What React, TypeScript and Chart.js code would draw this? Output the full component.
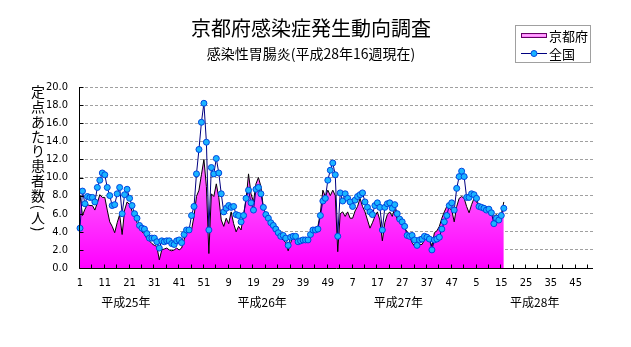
import React, { useEffect, useRef } from 'react';
import { Chart, registerables } from 'chart.js';

Chart.register(...registerables);

// ---- data ----
const titleText = '京都府感染症発生動向調査';
const subtitleText = '感染性胃腸炎(平成28年16週現在)';
const yAxisTitleMain = ['定', '点', 'あ', 'た', 'り', '患', '者', '数'];
const yAxisTitleUnit = '人';
const seriesNames = ['京都府', '全国'];
const yearNames = ['平成25年', '平成26年', '平成27年', '平成28年'];
const weeksPerYear = [52, 52, 52, 52];
const yTickValues = [0, 2, 4, 6, 8, 10, 12, 14, 16, 18, 20];

const kyoto2013 = [
  8.1, 5.8, 6.5, 7.0, 6.9, 6.9, 6.4, 7.2, 8.1, 7.8,
  7.8, 6.4, 5.1, 4.6, 3.9, 5.0, 5.9, 3.7, 6.4, 7.3,
  7.0, 6.3, 5.7, 5.0, 4.6, 4.0, 3.8, 3.2, 3.0, 2.7,
  2.5, 2.4, 0.9, 2.0, 2.1, 2.2, 2.0, 1.9, 2.0, 2.2,
  2.0, 2.2, 3.1, 3.9, 4.0, 4.2, 5.7, 7.9, 8.6, 10.3,
  12.0, 9.0,
];
const kyoto2014 = [
  1.6, 8.2, 7.9, 9.3, 7.8, 5.3, 4.6, 5.5, 4.9, 6.2,
  4.9, 4.0, 4.6, 4.2, 5.9, 7.5, 10.4, 8.2, 7.3, 9.3,
  10.0, 9.0, 6.6, 6.0, 5.5, 5.0, 4.6, 4.2, 3.8, 3.3,
  3.1, 2.8, 1.9, 2.8, 3.5, 3.0, 2.8, 3.0, 3.3, 3.2,
  3.2, 3.5, 4.2, 4.4, 4.6, 6.1, 8.6, 7.9, 8.6, 8.0,
  8.6, 8.0,
];
const kyoto2015 = [
  1.8, 6.0, 6.2, 5.7, 6.2, 5.5, 5.5, 6.3, 6.8, 7.7,
  6.8, 6.2, 5.3, 4.4, 5.0, 5.7, 6.2, 5.3, 3.0, 5.0,
  5.9, 6.2, 5.7, 6.6, 5.3, 5.0, 4.8, 4.4, 4.0, 3.5,
  2.8, 2.4, 2.4, 2.6, 2.6, 3.1, 3.4, 3.2, 2.4, 3.9,
  4.1, 4.6, 5.5, 6.2, 6.8, 6.6, 6.4, 5.1, 6.8, 7.7,
  7.9, 7.7,
];
const kyoto2016 = [
  6.8, 6.1, 7.0, 7.7, 7.3, 6.9, 6.7, 6.7, 6.4, 6.4,
  6.0, 5.7, 5.9, 5.7, 5.9, 7.3,
];

const national2013 = [
  4.4, 8.5, 7.1, 7.9, 7.8, 7.8, 7.3, 8.9, 9.7, 10.5,
  10.3, 8.9, 8.0, 6.9, 7.0, 8.2, 8.9, 6.0, 8.1, 8.7,
  7.7, 6.9, 6.0, 5.5, 4.7, 4.4, 4.3, 3.8, 3.3, 3.3,
  3.3, 2.9, 2.2, 3.0, 2.9, 3.0, 3.0, 2.7, 2.6, 3.0,
  3.1, 2.8, 3.7, 4.2, 4.2, 5.8, 6.8, 10.4, 13.1, 16.1,
  18.2, 13.9,
];
const national2014 = [
  4.2, 11.1, 10.4, 12.1, 10.5, 8.2, 6.2, 6.6, 6.9, 6.7,
  6.8, 5.9, 5.8, 5.1, 5.8, 7.7, 8.6, 7.2, 6.4, 8.7,
  8.9, 8.2, 6.7, 5.9, 5.5, 5.0, 4.7, 4.3, 3.9, 3.5,
  3.6, 3.3, 2.5, 3.4, 3.5, 3.5, 2.9, 3.0, 3.1, 3.1,
  3.1, 3.7, 4.2, 4.2, 4.3, 5.8, 7.4, 7.7, 9.7, 10.8,
  11.6, 10.3,
];
const national2015 = [
  3.5, 8.3, 7.4, 8.2, 7.7, 7.3, 6.8, 7.5, 7.9, 8.1,
  8.3, 7.3, 6.7, 6.2, 5.9, 6.9, 7.2, 6.7, 4.2, 6.7,
  7.1, 7.2, 6.6, 7.0, 6.0, 5.4, 5.1, 4.6, 3.6, 3.5,
  3.6, 3.1, 2.5, 3.1, 3.2, 3.5, 3.4, 3.2, 2.0, 3.1,
  3.2, 3.4, 4.3, 5.1, 5.8, 6.9, 7.2, 6.4, 8.8, 10.1,
  10.7, 10.1,
];
const national2016 = [
  7.8, 7.8, 8.2, 8.1, 7.7, 6.8, 6.7, 6.6, 6.4, 6.5,
  6.1, 4.9, 5.5, 5.3, 5.8, 6.6,
];

const kyoto = [...kyoto2013, ...kyoto2014, ...kyoto2015, ...kyoto2016];
const national = [...national2013, ...national2014, ...national2015, ...national2016];
const weekLabels = weeksPerYear.flatMap((n) => Array.from({ length: n }, (_, i) => String(i + 1)));

// ---- style ----
const JP = '"Noto Sans CJK JP", "Noto Sans", sans-serif';
const NUM = '"Liberation Sans Narrow", "DejaVu Sans Condensed", "Liberation Sans", sans-serif';
const W = 631;
const H = 347;
const YEAR_LABEL_FIRST = 18.5;
const YEAR_LABEL_STEP = 55;
const NAVY = '#000080';
const MARK_FILL = '#1ab4ff';
const MARK_EDGE = '#0046e0';

const decorPlugin = {
  id: 'decor',
  afterDatasetsDraw(chart: any) {
    const { ctx, chartArea, scales } = chart;
    const { left, right, top, bottom } = chartArea;
    const x = scales.x;
    const y = scales.y;
    ctx.save();
    ctx.strokeStyle = '#000';
    ctx.lineWidth = 1;
    ctx.beginPath();
    const lx = Math.round(left) - 0.5;
    const by = Math.round(bottom) + 0.5;
    ctx.moveTo(lx, Math.round(top));
    ctx.lineTo(lx, by);
    ctx.moveTo(lx, by);
    ctx.lineTo(Math.round(right), by);
    for (let i = 0; i < weekLabels.length; i += 5) {
      const px = Math.round(x.getPixelForValue(i)) - 0.5;
      ctx.moveTo(px, by);
      ctx.lineTo(px, by - 4);
    }
    for (const v of yTickValues) {
      const py = Math.round(y.getPixelForValue(v)) + 0.5;
      ctx.moveTo(lx, py);
      ctx.lineTo(lx + 4, py);
    }
    ctx.stroke();
    ctx.restore();
  },
  afterDraw(chart: any) {
    const { ctx, scales } = chart;
    const x = scales.x;
    ctx.save();
    ctx.fillStyle = '#000';
    ctx.textAlign = 'center';
    ctx.textBaseline = 'middle';
    ctx.font = `20px ${JP}`;
    ctx.fillText(titleText, 311, 28);
    ctx.font = `14px ${JP}`;
    ctx.fillText(subtitleText, 311, 53.5);

    // vertical y-axis title
    ctx.font = `14px ${JP}`;
    yAxisTitleMain.forEach((ch, k) => {
      ctx.fillText(ch, 38, 92 + k * 14.75);
    });
    const drawRot = (ch: string, cy: number) => {
      ctx.save();
      ctx.translate(38, cy);
      ctx.rotate(Math.PI / 2);
      ctx.fillText(ch, 0, 0);
      ctx.restore();
    };
    drawRot('(', 207);
    ctx.fillText(yAxisTitleUnit, 38, 218);
    drawRot(')', 229);

    // year labels
    ctx.font = `12px ${JP}`;
    yearNames.forEach((name, k) => {
      const px = x.getPixelForValue(YEAR_LABEL_FIRST + YEAR_LABEL_STEP * k);
      ctx.fillText(name, px, 302);
    });

    // legend
    ctx.strokeStyle = '#a0a0a0';
    ctx.lineWidth = 1;
    ctx.strokeRect(515.5, 25.5, 75, 37);
    const g = ctx.createLinearGradient(0, 33, 0, 38);
    g.addColorStop(0, '#ff66ff');
    g.addColorStop(0.5, '#ffaaff');
    g.addColorStop(1, '#ff44ff');
    ctx.fillStyle = g;
    ctx.fillRect(521, 33, 26, 5);
    ctx.strokeStyle = '#660066';
    ctx.strokeRect(521.5, 33.5, 25, 4);
    ctx.strokeStyle = NAVY;
    ctx.beginPath();
    ctx.moveTo(521, 53.5);
    ctx.lineTo(547, 53.5);
    ctx.stroke();
    ctx.beginPath();
    ctx.arc(534, 53.5, 3, 0, Math.PI * 2);
    ctx.fillStyle = MARK_FILL;
    ctx.fill();
    ctx.strokeStyle = MARK_EDGE;
    ctx.stroke();
    ctx.fillStyle = '#000';
    ctx.textAlign = 'left';
    ctx.font = `13px ${JP}`;
    ctx.fillText(seriesNames[0], 549, 36);
    ctx.fillText(seriesNames[1], 549, 54);
    ctx.restore();
  },
};

export default function App() {
  const ref = useRef<HTMLCanvasElement | null>(null);
  useEffect(() => {
    document.body.style.margin = '0';
    const canvas = ref.current;
    if (!canvas) return;
    const chart = new Chart(canvas, {
      type: 'line',
      data: {
        labels: weekLabels,
        datasets: [
          {
            label: seriesNames[1],
            data: national,
            order: 0,
            borderColor: NAVY,
            borderWidth: 1,
            pointRadius: 3,
            pointBorderWidth: 1,
            pointBackgroundColor: MARK_FILL,
            pointBorderColor: MARK_EDGE,
            fill: false,
            tension: 0,
            clip: false as any,
          },
          {
            label: seriesNames[0],
            data: kyoto,
            order: 1,
            borderColor: '#000000',
            borderWidth: 1,
            pointRadius: 0,
            tension: 0,
            fill: 'origin',
            backgroundColor: (c: any) => {
              const area = c.chart.chartArea;
              if (!area) return '#ff44ff';
              const gr = c.chart.ctx.createLinearGradient(0, area.top, 0, area.bottom);
              gr.addColorStop(0, '#ffc0ff');
              gr.addColorStop(1, '#ff00ff');
              return gr;
            },
          },
        ],
      },
      options: {
        responsive: false,
        maintainAspectRatio: false,
        animation: false,
        events: [],
        layout: { padding: { left: 0, right: 38, top: 87, bottom: 0 } },
        plugins: {
          legend: { display: false },
          tooltip: { enabled: false },
          title: { display: false },
        },
        scales: {
          x: {
            type: 'category',
            offset: false,
            grid: { display: false, drawTicks: false },
            border: { display: false },
            ticks: {
              autoSkip: false,
              maxRotation: 0,
              minRotation: 0,
              padding: 9,
              color: '#000',
              font: { size: 11, family: NUM },
              callback: (_v: any, i: number) => (i % 10 === 0 ? weekLabels[i] : ''),
            },
            afterFit: (s: any) => {
              s.height = H - 268;
            },
          },
          y: {
            min: 0,
            max: 20,
            ticks: {
              stepSize: 2,
              padding: 12,
              color: '#000',
              font: { size: 11, family: NUM },
              callback: (v: any) => Number(v).toFixed(1),
            },
            grid: {
              drawTicks: false,
              color: (c: any) => (c.tick && c.tick.value === 0 ? 'rgba(0,0,0,0)' : '#a0a0a0'),
              lineWidth: 1,
            },
            border: { display: false, dash: [3, 2] },
            afterFit: (s: any) => {
              s.width = 80;
            },
          },
        },
      },
      plugins: [decorPlugin],
    });
    return () => chart.destroy();
  }, []);
  return (
    <div style={{ width: W, height: H, background: '#fff' }}>
      <canvas ref={ref} width={W} height={H} style={{ display: 'block' }} />
    </div>
  );
}
